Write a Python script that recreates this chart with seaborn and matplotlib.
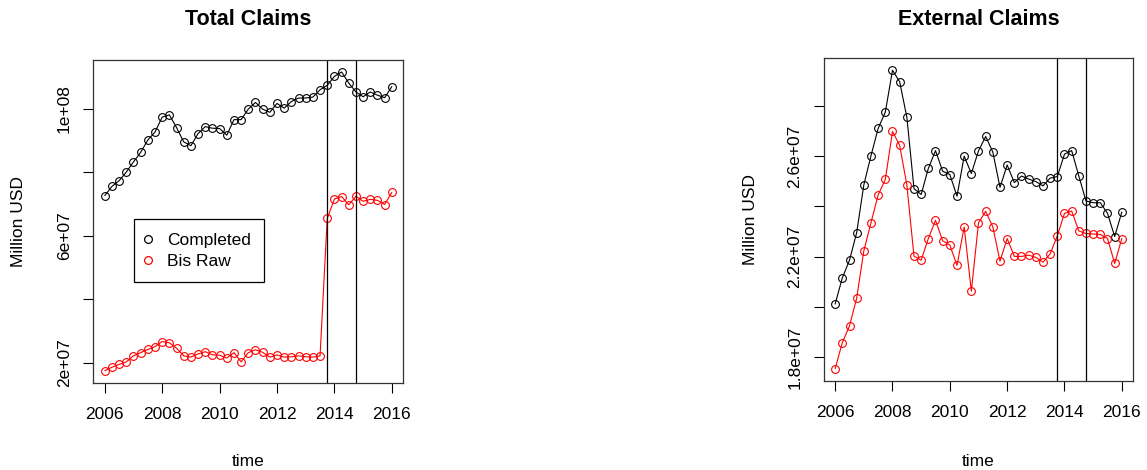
import numpy as np
import matplotlib
matplotlib.use("Agg")
import matplotlib.pyplot as plt
from matplotlib.lines import Line2D
from matplotlib.ticker import FixedLocator, FixedFormatter
import seaborn as sns

sns.set_style("white")
plt.rcParams["font.family"] = ["Liberation Sans", "DejaVu Sans"]
plt.rcParams["text.color"] = "black"
plt.rcParams["axes.labelcolor"] = "black"
plt.rcParams["xtick.color"] = "black"
plt.rcParams["ytick.color"] = "black"

# Quarterly observations, 2006Q1 .. 2016Q1
time = 2006 + np.arange(41) / 4

# Total claims (units of 1e7 USD)
total_completed = [7.26, 7.55, 7.73, 8.00, 8.32, 8.62, 9.01, 9.26, 9.73, 9.80,
                   9.40, 8.95, 8.83, 9.21, 9.43, 9.38, 9.37, 9.16, 9.65, 9.65,
                   9.98, 10.19, 9.98, 9.88, 10.16, 10.01, 10.22, 10.33, 10.33, 10.36,
                   10.59, 10.73, 11.01, 11.15, 10.80, 10.52, 10.37, 10.52, 10.42, 10.34,
                   10.69]
total_bis_raw = [1.75, 1.86, 1.95, 2.03, 2.22, 2.32, 2.42, 2.51, 2.67, 2.63,
                 2.46, 2.22, 2.18, 2.28, 2.35, 2.25, 2.24, 2.15, 2.32, 2.03,
                 2.32, 2.41, 2.33, 2.18, 2.25, 2.18, 2.19, 2.22, 2.19, 2.18,
                 2.22, 6.54, 7.15, 7.23, 6.97, 7.24, 7.08, 7.14, 7.11, 6.98,
                 7.36]

# External claims (units of 1e6 USD)
ext_completed = [20.12, 21.16, 21.86, 22.95, 24.85, 26.01, 27.09, 27.74, 29.40, 28.94,
                 27.54, 24.70, 24.47, 25.50, 26.21, 25.39, 25.26, 24.40, 25.99, 25.30,
                 26.20, 26.77, 26.15, 24.75, 25.64, 24.94, 25.20, 25.08, 24.98, 24.81,
                 25.12, 25.18, 26.07, 26.21, 25.20, 24.21, 24.14, 24.14, 23.72, 22.80,
                 23.77]
ext_bis_raw = [17.55, 18.59, 19.25, 20.35, 22.23, 23.35, 24.45, 25.07, 26.97, 26.42,
               24.85, 22.02, 21.86, 22.72, 23.44, 22.63, 22.46, 21.65, 23.18, 20.63,
               23.34, 23.80, 23.18, 21.82, 22.72, 22.01, 22.01, 22.06, 21.97, 21.78,
               22.11, 22.83, 23.72, 23.81, 23.02, 22.92, 22.90, 22.88, 22.72, 21.73,
               22.72]

break_dates = [2013.75, 2014.75]
x_ticks = [2006, 2008, 2010, 2012, 2014, 2016]
left_yticks = [2e7, 4e7, 6e7, 8e7, 1e8]
left_ylabels = ["2e+07", "", "6e+07", "", "1e+08"]
right_yticks = [1.8e7, 2.0e7, 2.2e7, 2.4e7, 2.6e7, 2.8e7]
right_ylabels = ["1.8e+07", "", "2.2e+07", "", "2.6e+07", ""]
series_names = ["Completed", "Bis Raw"]
series_colors = ["black", "#FF0000"]

FS = 12.5
W, H = 1147, 470
fig = plt.figure(figsize=(W / 100, H / 100), dpi=100)


def px_axes(left, top, right, bottom):
    return fig.add_axes([left / W, 1 - bottom / H, (right - left) / W, (bottom - top) / H])


ax1 = px_axes(93.3, 60.0, 403.3, 382.7)
ax2 = px_axes(823.7, 58.3, 1133.3, 380.7)


def draw_panel(ax, series, scale, yticks, ylabels, title, title_pad):
    for vals, color in zip(series, series_colors):
        y = np.asarray(vals) * scale
        sns.lineplot(x=time, y=y, ax=ax, color=color, linewidth=0.8,
                     marker="o", markersize=5.6, markerfacecolor="none",
                     markeredgecolor=color, markeredgewidth=0.8)
    lo = min(min(np.asarray(s) * scale) for s in series)
    hi = max(max(np.asarray(s) * scale) for s in series)
    pad = (hi - lo) * 0.04
    ax.set_ylim(lo - pad, hi + pad)
    ax.set_xlim(2005.6, 2016.4)
    for b in break_dates:
        ax.axvline(b, color="black", linewidth=0.9)
    ax.xaxis.set_major_locator(FixedLocator(x_ticks))
    ax.yaxis.set_major_locator(FixedLocator(yticks))
    ax.yaxis.set_major_formatter(FixedFormatter(ylabels))
    ax.tick_params(axis="both", direction="out", length=7.5, width=0.8,
                   color="black", labelcolor="black", labelsize=FS,
                   bottom=True, left=True)
    ax.tick_params(axis="x", pad=10)
    ax.tick_params(axis="y", pad=8)
    for lab in ax.get_yticklabels():
        lab.set_rotation(90)
        lab.set_va("center")
    for s in ax.spines.values():
        s.set_visible(True)
        s.set_color("#333333")
        s.set_linewidth(0.9)
    ax.set_title(title, fontsize=15.5, fontweight="bold", pad=title_pad, color="black")
    ax.set_xlabel("time", fontsize=FS, va="center", color="black")
    ax.set_ylabel("Million USD", fontsize=FS, va="center", color="black")
    ax.set_facecolor("white")


draw_panel(ax1, [total_completed, total_bis_raw], 1e7, left_yticks, left_ylabels,
           "Total Claims", 25)
draw_panel(ax2, [ext_completed, ext_bis_raw], 1e6, right_yticks, right_ylabels,
           "External Claims", 24)

ax1.xaxis.set_label_coords(0.5, -(461.7 - 382.7) / 322.7)
ax1.yaxis.set_label_coords((18.3 - 93.3) / 310.0, 0.5)
ax2.xaxis.set_label_coords(0.5, -(461.0 - 380.7) / 322.4)
ax2.yaxis.set_label_coords((750.0 - 823.7) / 309.6, 0.5)

handles = [Line2D([], [], linestyle="none", marker="o", markersize=5.6,
                  markerfacecolor="none", markeredgecolor=c, markeredgewidth=0.9)
           for c in series_colors]
leg = ax1.legend(handles, series_names, loc="upper left",
                 bbox_to_anchor=((134.3 - 93.3) / 310.0, 1 - (219.3 - 60.0) / 322.7),
                 borderaxespad=0, fontsize=FS, frameon=True, fancybox=False,
                 framealpha=1, edgecolor="black", borderpad=0.78, labelspacing=0.32,
                 handlelength=0.05, handletextpad=1.05)
leg.get_frame().set_linewidth(0.9)
for t in leg.get_texts():
    t.set_color("black")

fig.savefig("out.png", dpi=100, facecolor="white")
